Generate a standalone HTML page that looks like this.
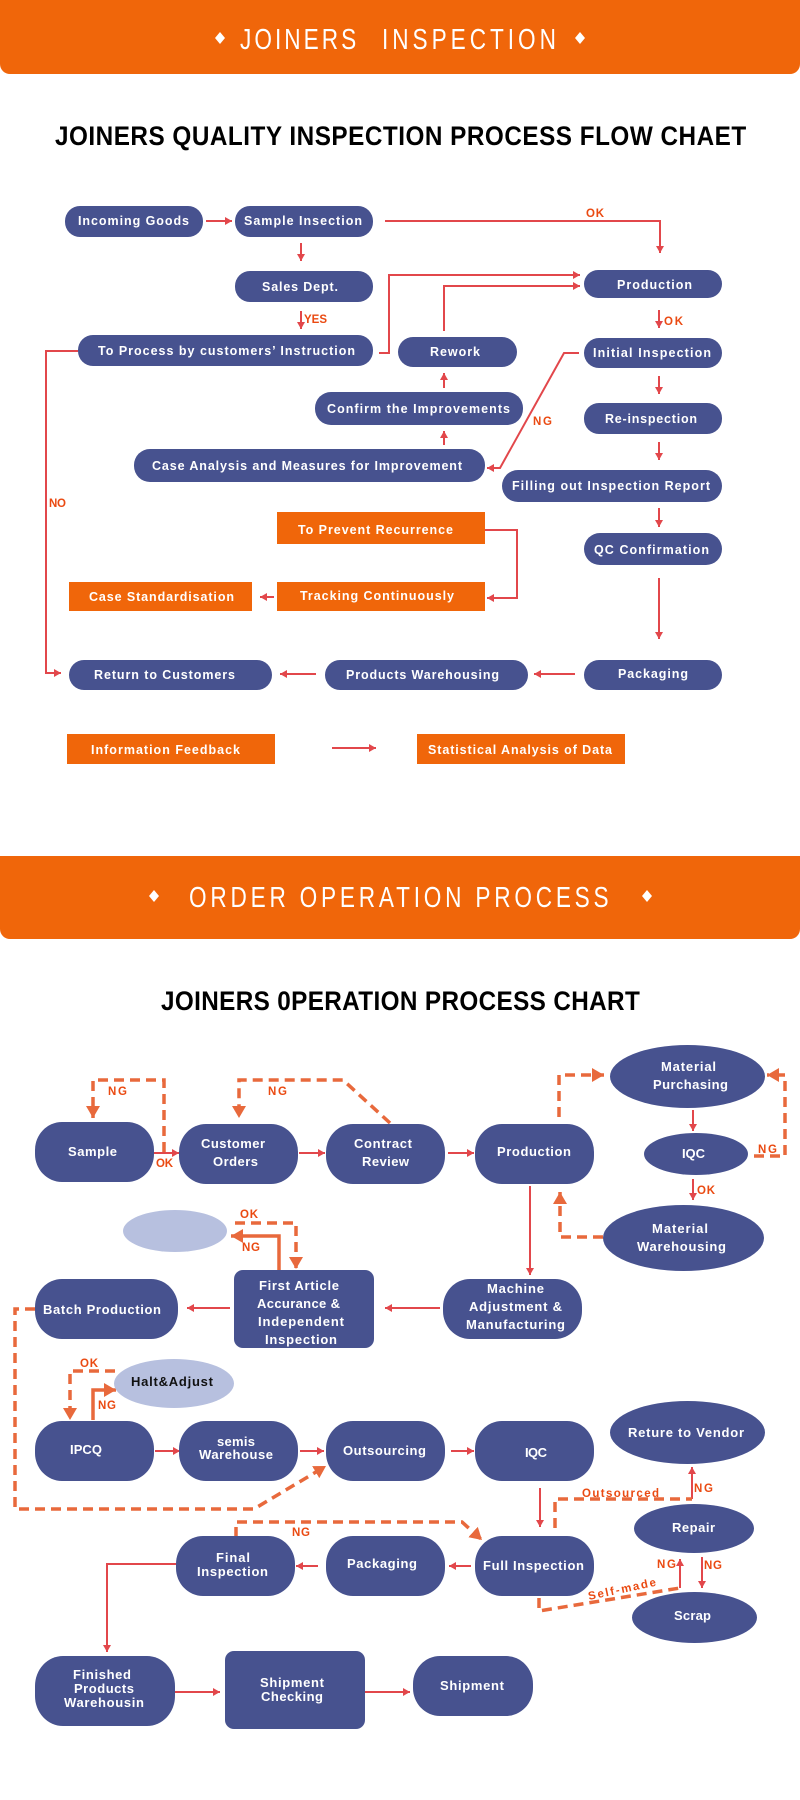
<!DOCTYPE html>
<html lang="en">
<head>
<meta charset="utf-8">
<title>Joiners Inspection</title>
<style>
html,body{margin:0;padding:0;background:#fff;width:800px;height:1800px;overflow:hidden}
svg{display:block}
text{font-family:"Liberation Sans",sans-serif}
.n{fill:#47528F}
.o{fill:#F0660A}
.t{fill:#fff;font-weight:700;font-size:12.5px}
.u{fill:#fff;font-weight:700;font-size:13px}
.l{fill:#EA4A12;font-size:11.5px;font-weight:700}
.r{fill:none;stroke:#E2474B;stroke-width:2}
.rm{marker-end:url(#a)}
.d{fill:none;stroke:#E8693C;stroke-width:3.5;stroke-dasharray:10 6}
.s{fill:none;stroke:#E8693C;stroke-width:3.5}
.dm{marker-end:url(#b)}
.h{fill:#fff;font-size:29px}
.b{fill:#000;font-weight:700;font-size:27px}
</style>
</head>
<body>
<svg width="800" height="1800" viewBox="0 0 800 1800" xmlns="http://www.w3.org/2000/svg">
<defs>
<marker id="a" markerUnits="userSpaceOnUse" markerWidth="8" markerHeight="9" refX="7" refY="4" orient="auto"><path d="M0 0L7 4L0 8z" fill="#E2474B"/></marker>
<marker id="b" markerUnits="userSpaceOnUse" markerWidth="13" markerHeight="14" refX="12" refY="7" orient="auto"><path d="M0 0L12 7L0 14z" fill="#E8693C"/></marker>
</defs>

<!-- Header 1 -->
<path class="o" d="M0 0H800V64a10 10 0 0 1-10 10H10a10 10 0 0 1-10-10z"/>
<path fill="#fff" d="M220 32l5 6-5 6-5-6zM580 32l5 6-5 6-5-6z"/>
<text class="h" transform="translate(240 49) scale(.78 1)" textLength="149">JOINERS</text>
<text class="h" transform="translate(382 49) scale(.78 1)" textLength="223">INSPECTION</text>
<text class="b" transform="translate(55 145) scale(.9 1)" textLength="768">JOINERS QUALITY INSPECTION PROCESS FLOW CHAET</text>

<!-- Chart 1 connectors -->
<path class="r rm" d="M206 221H232"/>
<path class="r rm" d="M385 221H660V253"/>
<path class="r rm" d="M301 243V261"/>
<path class="r rm" d="M301 311V329"/>
<path class="r rm" d="M379 353H389V275H580"/>
<path class="r rm" d="M444 331V286H580"/>
<path class="r rm" d="M659 310V328"/>
<path class="r rm" d="M444 388V373"/>
<path class="r rm" d="M444 445V431"/>
<path class="r rm" d="M579 353H564L500 468H487"/>
<path class="r rm" d="M659 376V394"/>
<path class="r rm" d="M659 442V460"/>
<path class="r rm" d="M659 508V527"/>
<path class="r rm" d="M659 578V639"/>
<path class="r rm" d="M575 674H534"/>
<path class="r rm" d="M316 674H280"/>
<path class="r rm" d="M485 530H517V598H487"/>
<path class="r rm" d="M274 597H260"/>
<path class="r rm" d="M78 351H46V673H61"/>
<path class="r rm" d="M332 748H376"/>

<!-- Chart 1 nodes -->
<rect class="n" x="65" y="206" width="138" height="31" rx="15"/>
<rect class="n" x="235" y="206" width="138" height="31" rx="15"/>
<rect class="n" x="235" y="271" width="138" height="31" rx="15"/>
<rect class="n" x="78" y="335" width="295" height="31" rx="15"/>
<rect class="n" x="584" y="270" width="138" height="28" rx="14"/>
<rect class="n" x="584" y="338" width="138" height="30" rx="15"/>
<rect class="n" x="398" y="337" width="119" height="30" rx="15"/>
<rect class="n" x="315" y="392" width="208" height="33" rx="16"/>
<rect class="n" x="584" y="403" width="138" height="31" rx="15"/>
<rect class="n" x="134" y="449" width="351" height="33" rx="16"/>
<rect class="n" x="502" y="470" width="220" height="32" rx="16"/>
<rect class="n" x="584" y="533" width="138" height="32" rx="16"/>
<rect class="n" x="69" y="660" width="203" height="30" rx="15"/>
<rect class="n" x="325" y="660" width="203" height="30" rx="15"/>
<rect class="n" x="584" y="660" width="138" height="30" rx="15"/>
<rect class="o" x="277" y="512" width="208" height="32"/>
<rect class="o" x="277" y="582" width="208" height="29"/>
<rect class="o" x="69" y="582" width="183" height="29"/>
<rect class="o" x="67" y="734" width="208" height="30"/>
<rect class="o" x="417" y="734" width="208" height="30"/>

<!-- Chart 1 labels -->
<text class="t" x="78" y="225" textLength="111">Incoming Goods</text>
<text class="t" x="244" y="225" textLength="118">Sample Insection</text>
<text class="t" x="262" y="291" textLength="76">Sales Dept.</text>
<text class="t" x="98" y="355" textLength="257">To Process by customers’ Instruction</text>
<text class="t" x="430" y="356" textLength="50">Rework</text>
<text class="t" x="617" y="289" textLength="75">Production</text>
<text class="t" x="593" y="357" textLength="118">Initial Inspection</text>
<text class="t" x="327" y="413" textLength="183">Confirm the Improvements</text>
<text class="t" x="605" y="423" textLength="92">Re-inspection</text>
<text class="t" x="152" y="470" textLength="310">Case Analysis and Measures for Improvement</text>
<text class="t" x="512" y="490" textLength="198">Filling out Inspection Report</text>
<text class="t" x="298" y="534" textLength="155">To Prevent Recurrence</text>
<text class="t" x="594" y="554" textLength="115">QC Confirmation</text>
<text class="t" x="300" y="600" textLength="154">Tracking Continuously</text>
<text class="t" x="89" y="601" textLength="145">Case Standardisation</text>
<text class="t" x="94" y="679" textLength="141">Return to Customers</text>
<text class="t" x="346" y="679" textLength="153">Products Warehousing</text>
<text class="t" x="618" y="678" textLength="70">Packaging</text>
<text class="t" x="91" y="754" textLength="149">Information Feedback</text>
<text class="t" x="428" y="754" textLength="184">Statistical Analysis of Data</text>

<text class="l" x="586" y="217" textLength="18">OK</text>
<text class="l" x="304" y="323" textLength="23">YES</text>
<text class="l" x="664" y="325" textLength="19">OK</text>
<text class="l" x="533" y="425" textLength="19">NG</text>
<text class="l" x="49" y="507" textLength="17">NO</text>

<!-- Header 2 -->
<path class="o" d="M0 856H800V929a10 10 0 0 1-10 10H10a10 10 0 0 1-10-10z"/>
<path fill="#fff" d="M154 890l5 6-5 6-5-6zM647 890l5 6-5 6-5-6z"/>
<text class="h" transform="translate(189 907) scale(.78 1)" textLength="538">ORDER OPERATION PROCESS</text>
<text class="b" transform="translate(161 1010) scale(.9 1)" textLength="532">JOINERS 0PERATION PROCESS CHART</text>

<!-- Chart 2 connectors -->
<path class="r rm" d="M154 1153H179"/>
<path class="r rm" d="M299 1153H325"/>
<path class="r rm" d="M448 1153H474"/>
<path class="r rm" d="M693 1110V1131"/>
<path class="r rm" d="M693 1179V1200"/>
<path class="r rm" d="M530 1186V1275"/>
<path class="r rm" d="M440 1308H385"/>
<path class="r rm" d="M230 1308H187"/>
<path class="r rm" d="M155 1451H180"/>
<path class="r rm" d="M300 1451H324"/>
<path class="r rm" d="M451 1451H474"/>
<path class="r rm" d="M540 1488V1527"/>
<path class="r rm" d="M692 1499V1467"/>
<path class="r rm" d="M471 1566H449"/>
<path class="r rm" d="M318 1566H296"/>
<path class="r rm" d="M176 1564H107V1652"/>
<path class="r rm" d="M175 1692H220"/>
<path class="r rm" d="M365 1692H410"/>
<path class="r rm" d="M680 1588V1559"/>
<path class="r rm" d="M702 1557V1588"/>

<path class="d dm" d="M164 1152V1080H93V1118"/>
<path class="d dm" d="M390 1123L343 1080H239V1118"/>
<path class="d dm" d="M559 1117V1075H604"/>
<path class="d dm" d="M754 1156H785V1075H767"/>
<path class="d dm" d="M603 1237H560V1192"/>
<path class="s dm" d="M279 1270V1236H231"/>
<path class="d dm" d="M235 1223H296V1269"/>
<path class="d dm" d="M35 1309H15V1509H254L326 1466"/>
<path class="d dm" d="M115 1371H70V1420"/>
<path class="s dm" d="M93 1420V1390H116"/>
<path class="d" d="M555 1528V1499H692"/>
<path class="d dm" d="M236 1537V1522H462L482 1540"/>
<path class="d" d="M539 1598V1611L680 1588"/>

<!-- Chart 2 nodes -->
<rect class="n" x="35" y="1122" width="119" height="60" rx="27" ry="28"/>
<rect class="n" x="179" y="1124" width="119" height="60" rx="27" ry="28"/>
<rect class="n" x="326" y="1124" width="119" height="60" rx="27" ry="28"/>
<rect class="n" x="475" y="1124" width="119" height="60" rx="27" ry="28"/>
<ellipse class="n" cx="687.5" cy="1076.5" rx="77.5" ry="31.5"/>
<ellipse class="n" cx="696" cy="1154" rx="52" ry="21"/>
<ellipse class="n" cx="683.5" cy="1238" rx="80.5" ry="33"/>
<ellipse cx="175" cy="1231" rx="52" ry="21" fill="#B7C0DF"/>
<rect class="n" x="234" y="1270" width="140" height="78" rx="9"/>
<rect class="n" x="35" y="1279" width="143" height="60" rx="27" ry="28"/>
<rect class="n" x="443" y="1279" width="139" height="60" rx="27" ry="28"/>
<ellipse cx="174" cy="1383.5" rx="60" ry="24.5" fill="#B7C0DF"/>
<rect class="n" x="35" y="1421" width="119" height="60" rx="27" ry="28"/>
<rect class="n" x="179" y="1421" width="119" height="60" rx="27" ry="28"/>
<rect class="n" x="326" y="1421" width="119" height="60" rx="27" ry="28"/>
<rect class="n" x="475" y="1421" width="119" height="60" rx="27" ry="28"/>
<ellipse class="n" cx="687.5" cy="1432.5" rx="77.5" ry="31.5"/>
<ellipse class="n" cx="694" cy="1528.5" rx="60" ry="24.5"/>
<ellipse class="n" cx="694.5" cy="1617.5" rx="62.5" ry="25.5"/>
<rect class="n" x="176" y="1536" width="119" height="60" rx="27" ry="28"/>
<rect class="n" x="326" y="1536" width="119" height="60" rx="27" ry="28"/>
<rect class="n" x="475" y="1536" width="119" height="60" rx="27" ry="28"/>
<rect class="n" x="35" y="1656" width="140" height="70" rx="28" ry="30"/>
<rect class="n" x="225" y="1651" width="140" height="78" rx="9"/>
<rect class="n" x="413" y="1656" width="120" height="60" rx="27" ry="28"/>

<!-- Chart 2 labels -->
<text class="u" x="68" y="1156" textLength="49">Sample</text>
<text class="u" x="201" y="1148" textLength="64">Customer</text>
<text class="u" x="213" y="1166" textLength="45">Orders</text>
<text class="u" x="354" y="1148" textLength="58">Contract</text>
<text class="u" x="362" y="1166" textLength="47">Review</text>
<text class="u" x="497" y="1156" textLength="74">Production</text>
<text class="u" x="661" y="1071" textLength="55">Material</text>
<text class="u" x="653" y="1089" textLength="75">Purchasing</text>
<text class="u" x="682" y="1158" textLength="23">IQC</text>
<text class="u" x="652" y="1233" textLength="56">Material</text>
<text class="u" x="637" y="1251" textLength="89">Warehousing</text>
<text class="u" x="259" y="1290" textLength="80">First Article</text>
<text class="u" x="257" y="1308" textLength="83">Accurance &amp;</text>
<text class="u" x="258" y="1326" textLength="86">Independent</text>
<text class="u" x="265" y="1344" textLength="72">Inspection</text>
<text class="u" x="43" y="1314" textLength="118">Batch Production</text>
<text class="u" x="487" y="1293" textLength="57">Machine</text>
<text class="u" x="469" y="1311" textLength="93">Adjustment &amp;</text>
<text class="u" x="466" y="1329" textLength="99">Manufacturing</text>
<text class="u" x="131" y="1386" textLength="82" style="fill:#111">Halt&amp;Adjust</text>
<text class="u" x="70" y="1454" textLength="32">IPCQ</text>
<text class="u" x="217" y="1446" textLength="38">semis</text>
<text class="u" x="199" y="1459" textLength="74">Warehouse</text>
<text class="u" x="343" y="1455" textLength="83">Outsourcing</text>
<text class="u" x="525" y="1457" textLength="22">IQC</text>
<text class="u" x="628" y="1437" textLength="116">Reture to Vendor</text>
<text class="u" x="672" y="1532" textLength="43">Repair</text>
<text class="u" x="216" y="1562" textLength="34">Final</text>
<text class="u" x="197" y="1576" textLength="71">Inspection</text>
<text class="u" x="347" y="1568" textLength="70">Packaging</text>
<text class="u" x="483" y="1570" textLength="101">Full Inspection</text>
<text class="u" x="674" y="1620" textLength="37">Scrap</text>
<text class="u" x="73" y="1679" textLength="58">Finished</text>
<text class="u" x="74" y="1693" textLength="60">Products</text>
<text class="u" x="64" y="1707" textLength="80">Warehousin</text>
<text class="u" x="260" y="1687" textLength="64">Shipment</text>
<text class="u" x="261" y="1701" textLength="62">Checking</text>
<text class="u" x="440" y="1690" textLength="64">Shipment</text>

<text class="l" x="108" y="1095" textLength="19">NG</text>
<text class="l" x="156" y="1167" textLength="17">OK</text>
<text class="l" x="268" y="1095" textLength="19">NG</text>
<text class="l" x="758" y="1153" textLength="19">NG</text>
<text class="l" x="697" y="1194" textLength="18">OK</text>
<text class="l" x="240" y="1218" textLength="18">OK</text>
<text class="l" x="242" y="1251" textLength="18">NG</text>
<text class="l" x="80" y="1367" textLength="18">OK</text>
<text class="l" x="98" y="1409" textLength="18">NG</text>
<text class="l" x="582" y="1497" textLength="77">Outsourced</text>
<text class="l" x="694" y="1492" textLength="19">NG</text>
<text class="l" x="292" y="1536" textLength="18">NG</text>
<text class="l" x="657" y="1568" textLength="19">NG</text>
<text class="l" x="704" y="1569" textLength="18">NG</text>
<text class="l" transform="translate(589 1600) rotate(-12)" textLength="69">Self-made</text>
</svg>
</body>
</html>
